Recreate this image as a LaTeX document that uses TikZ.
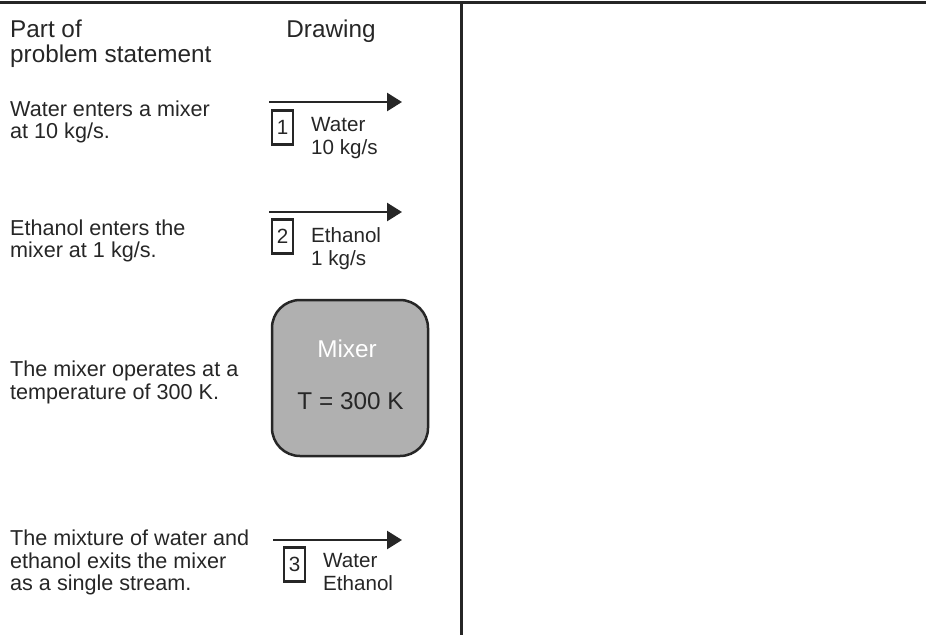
\documentclass[tikz,border=0pt]{standalone}
\usepackage{fontspec}
\setmainfont{Liberation Sans}
\usetikzlibrary{arrows.meta}
\definecolor{ink}{HTML}{262626}
\definecolor{mixfill}{HTML}{B0B0B0}
\tikzset{
  rule/.style={line width=3pt, draw=ink},
  head/.style={font=\fontsize{24.3}{25}\selectfont, text=ink, inner sep=0pt, align=left},
  body/.style={font=\fontsize{21.6}{22.5}\selectfont, text=ink, inner sep=0pt, align=left, anchor=north west},
  lbl/.style={font=\fontsize{20.6}{23}\selectfont, text=ink, inner sep=0pt, align=left, anchor=north west},
  numbox/.style={draw=ink, line width=2.2pt, minimum width=21pt, minimum height=34pt, inner sep=0pt, font=\fontsize{20.6}{22}\selectfont, text=ink},
  flow/.style={draw=ink, line width=2.6pt, -{Triangle[length=15pt,width=18pt]}},
  mixerbox/.style={draw=ink, fill=mixfill, line width=2.5pt, rounded corners=28pt, minimum width=156pt, minimum height=156pt, inner sep=0pt},
}
\begin{document}
\begin{tikzpicture}[x=1pt,y=-1pt]
\useasboundingbox (0,0) rectangle (926,635);
% frame lines
\coordinate (tl) at (0,2);
\coordinate (tr) at (926,2);
\coordinate (vt) at (461,2);
\coordinate (vb) at (461,635);
\draw[rule] (tl) -- (tr);
\draw[rule] (vt) -- (vb);
% headings
\node[head, anchor=north west] (h1) at (10,20) {Part of\\problem statement};
\node[head, anchor=base] (h2) at (331,37) {Drawing};
% left texts
\node[body] (t1) at (10,100.5) {Water enters a mixer\\at 10 kg/s.};
\node[body] (t2) at (10,219.5) {Ethanol enters the\\mixer at 1 kg/s.};
\node[body] (t3) at (10,361) {The mixer operates at a\\temperature of 300 K.};
\node[body] (t4) at (10,530) {The mixture of water and\\ethanol exits the mixer\\as a single stream.};
% stream 1
\coordinate (a1s) at (269,102);
\coordinate (a1e) at (402,102);
\draw[flow] (a1s) -- (a1e);
\node[numbox] (b1) at (282.5,127.5) {1};
\node[lbl] (l1) at (311,117.5) {Water\\10 kg/s};
% stream 2
\coordinate (a2s) at (269,212);
\coordinate (a2e) at (402,212);
\draw[flow] (a2s) -- (a2e);
\node[numbox] (b2) at (282.5,236.5) {2};
\node[lbl] (l2) at (311,227.5) {Ethanol\\1 kg/s};
% mixer
\node[mixerbox] (mix) at (350,378) {};
\node[font=\fontsize{24.3}{25}\selectfont, text=white, anchor=base, inner sep=0pt] (mixname) at (347,357) {Mixer};
\node[font=\fontsize{24.3}{25}\selectfont, text=ink, anchor=base, inner sep=0pt] (mixT) at (350.5,409) {T = 300 K};
% stream 3
\coordinate (a3s) at (273,540);
\coordinate (a3e) at (402,540);
\draw[flow] (a3s) -- (a3e);
\node[numbox] (b3) at (294.5,564.5) {3};
\node[lbl] (l3) at (323,553) {Water\\Ethanol};
\end{tikzpicture}
\end{document}
